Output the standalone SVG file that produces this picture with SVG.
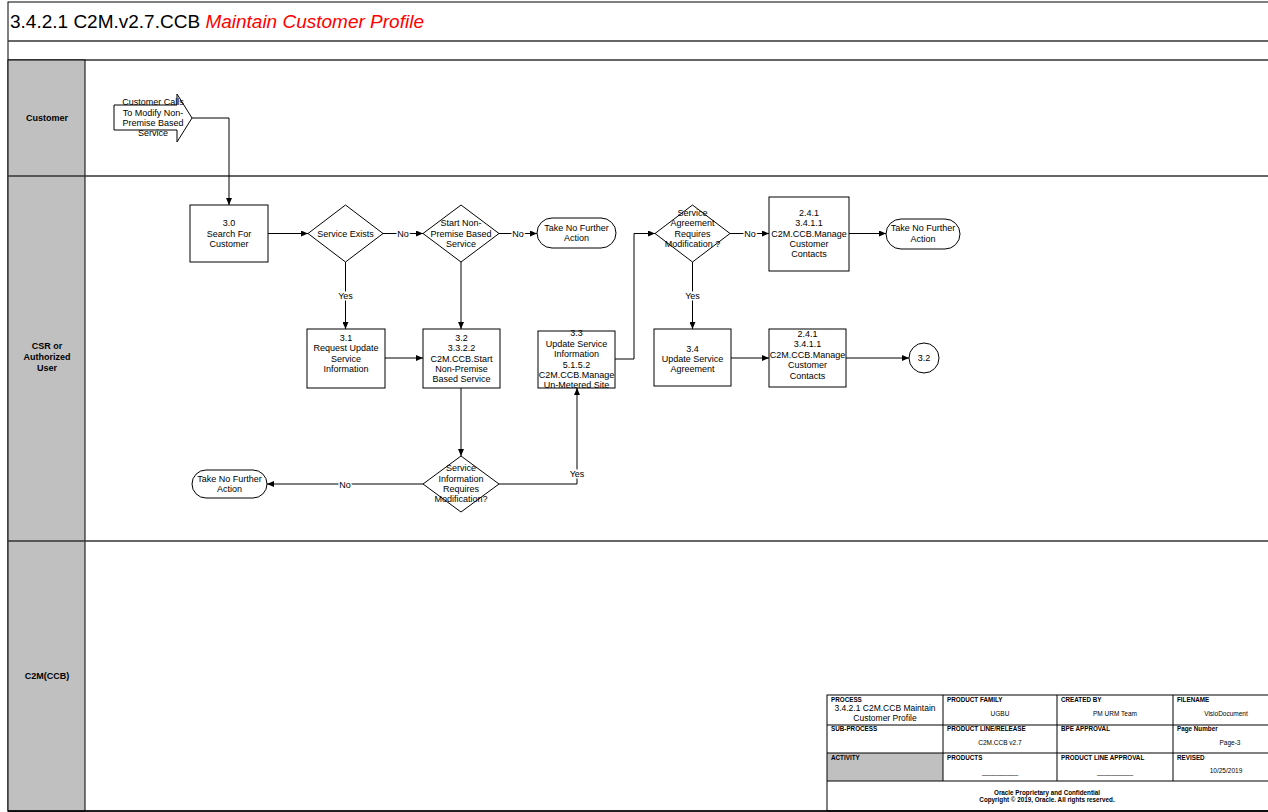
<svg xmlns="http://www.w3.org/2000/svg" width="1268" height="812" viewBox="0 0 1268 812">
<style>
  text { font-family: "Liberation Sans", Arial, sans-serif; fill: #000; }
  .n { font-size: 9px; text-anchor: middle; }
  .lane { font-size: 9px; font-weight: bold; text-anchor: middle; }
  .box { fill: #fff; stroke: #000; stroke-width: 1; }
  .conn { fill: none; stroke: #000; stroke-width: 1; }
  .lbl { font-size: 9px; text-anchor: middle; paint-order: stroke; stroke: #fff; stroke-width: 3px; }
  .hd { font-size: 6.3px; font-weight: bold; }
  .val { font-size: 6.5px; text-anchor: middle; }
  .grid { fill: none; stroke: #000; stroke-width: 1; }
  .sep { stroke: #333; stroke-width: 1.5; }
</style>
<defs>
  <marker id="ah" markerWidth="8" markerHeight="6" refX="7" refY="3" orient="auto" markerUnits="userSpaceOnUse">
    <path d="M0,0 L7,3 L0,6 z" fill="#000"/>
  </marker>
</defs>

<!-- Frame and lanes -->
<g id="frame">
  <rect x="0" y="0" width="1268" height="812" fill="#fff"/>
  <rect x="8" y="2" width="1270" height="809" fill="none" stroke="#000" stroke-width="1"/>
  <line x1="8" y1="41" x2="1268" y2="41" class="sep"/>
  <line x1="8" y1="60" x2="1268" y2="60" class="sep" stroke-width="2"/>
  <rect x="8" y="60" width="77" height="751" fill="#c0c0c0" stroke="#000" stroke-width="1"/>
  <line x1="8" y1="176" x2="1268" y2="176" class="sep"/>
  <line x1="8" y1="541" x2="1268" y2="541" class="sep"/>
  <line x1="8" y1="811" x2="1268" y2="811" stroke="#000" stroke-width="1.5"/>
  <text x="10" y="28" font-size="19">3.4.2.1 C2M.v2.7.CCB <tspan fill="#ff0000" font-style="italic">Maintain Customer Profile</tspan></text>
</g>

<g id="lane-customer"><text class="lane" x="47" y="121">Customer</text></g>
<g id="lane-csr"><text class="lane" x="47" y="349">CSR or</text><text class="lane" x="47" y="360">Authorized</text><text class="lane" x="47" y="371">User</text></g>
<g id="lane-c2m"><text class="lane" x="47" y="679">C2M(CCB)</text></g>

<!-- Connectors -->
<g id="connectors">
  <path class="conn" d="M192,118 H229 V205" marker-end="url(#ah)"/>
  <path class="conn" d="M268,233.5 H308" marker-end="url(#ah)"/>
  <path class="conn" d="M383,233.5 H423" marker-end="url(#ah)"/>
  <text class="lbl" x="403" y="237">No</text>
  <path class="conn" d="M499,233.5 H537" marker-end="url(#ah)"/>
  <text class="lbl" x="518" y="237">No</text>
  <path class="conn" d="M345.5,262 V329" marker-end="url(#ah)"/>
  <text class="lbl" x="345.5" y="299">Yes</text>
  <path class="conn" d="M461,262 V329" marker-end="url(#ah)"/>
  <path class="conn" d="M385,358 H423" marker-end="url(#ah)"/>
  <path class="conn" d="M461,388 V456" marker-end="url(#ah)"/>
  <path class="conn" d="M423,484 H267" marker-end="url(#ah)"/>
  <text class="lbl" x="345" y="488">No</text>
  <path class="conn" d="M499,484 H577 V388" marker-end="url(#ah)"/>
  <text class="lbl" x="577" y="477">Yes</text>
  <path class="conn" d="M615,359 H634 V233.5 H655" marker-end="url(#ah)"/>
  <path class="conn" d="M730,233.5 H769" marker-end="url(#ah)"/>
  <text class="lbl" x="750" y="237">No</text>
  <path class="conn" d="M849,233.5 H886" marker-end="url(#ah)"/>
  <path class="conn" d="M692.5,262 V329" marker-end="url(#ah)"/>
  <text class="lbl" x="692.5" y="299">Yes</text>
  <path class="conn" d="M731,358 H769" marker-end="url(#ah)"/>
  <path class="conn" d="M846,358 H909" marker-end="url(#ah)"/>
</g>

<!-- Nodes -->
<g id="start">
  <path class="box" d="M114,105 H177 V94 L192,118 L177,142 V130 H114 Z"/>
  <text class="n" x="153" y="105">Customer Calls</text>
  <text class="n" x="153" y="116">To Modify Non-</text>
  <text class="n" x="153" y="126">Premise Based</text>
  <text class="n" x="153" y="136">Service</text>
</g>
<g id="n30">
  <rect class="box" x="190" y="205" width="78" height="57"/>
  <text class="n" x="229" y="226">3.0</text>
  <text class="n" x="229" y="237">Search For</text>
  <text class="n" x="229" y="247">Customer</text>
</g>
<g id="d-service-exists">
  <path class="box" d="M345.5,205 L383,233.5 L345.5,262 L308,233.5 Z"/>
  <text class="n" x="345.5" y="237">Service Exists</text>
</g>
<g id="d-start-nonpremise">
  <path class="box" d="M461,205 L499,233.5 L461,262 L423,233.5 Z"/>
  <text class="n" x="461" y="226">Start Non-</text>
  <text class="n" x="461" y="237">Premise Based</text>
  <text class="n" x="461" y="247">Service</text>
</g>
<g id="t1">
  <rect class="box" x="537" y="218" width="79" height="30" rx="15"/>
  <text class="n" x="576.5" y="231">Take No Further</text>
  <text class="n" x="576.5" y="241">Action</text>
</g>
<g id="n31">
  <rect class="box" x="307" y="329" width="78" height="59"/>
  <text class="n" x="346" y="341">3.1</text>
  <text class="n" x="346" y="351">Request Update</text>
  <text class="n" x="346" y="362">Service</text>
  <text class="n" x="346" y="372">Information</text>
</g>
<g id="n32">
  <rect class="box" x="423" y="329" width="77" height="59"/>
  <text class="n" x="461.5" y="341">3.2</text>
  <text class="n" x="461.5" y="351">3.3.2.2</text>
  <text class="n" x="461.5" y="362">C2M.CCB.Start</text>
  <text class="n" x="461.5" y="372">Non-Premise</text>
  <text class="n" x="461.5" y="382">Based Service</text>
</g>
<g id="n33">
  <rect class="box" x="538" y="331" width="77" height="57"/>
  <text class="n" x="576.5" y="336">3.3</text>
  <text class="n" x="576.5" y="347">Update Service</text>
  <text class="n" x="576.5" y="357">Information</text>
  <text class="n" x="576.5" y="368">5.1.5.2</text>
  <text class="n" x="576.5" y="378">C2M.CCB.Manage</text>
  <text class="n" x="576.5" y="388">Un-Metered Site</text>
</g>
<g id="d-sirm">
  <path class="box" d="M461,456 L499,484 L461,512 L423,484 Z"/>
  <text class="n" x="461" y="471">Service</text>
  <text class="n" x="461" y="482">Information</text>
  <text class="n" x="461" y="492">Requires</text>
  <text class="n" x="461" y="502">Modification?</text>
</g>
<g id="t3">
  <rect class="box" x="192" y="470" width="75" height="28" rx="14"/>
  <text class="n" x="229.5" y="482">Take No Further</text>
  <text class="n" x="229.5" y="492">Action</text>
</g>
<g id="d-sarm">
  <path class="box" d="M692.5,205 L730,233.5 L692.5,262 L655,233.5 Z"/>
  <text class="n" x="692.5" y="216">Service</text>
  <text class="n" x="692.5" y="226">Agreement</text>
  <text class="n" x="692.5" y="237">Requires</text>
  <text class="n" x="692.5" y="247">Modification ?</text>
</g>
<g id="n241a">
  <rect class="box" x="769" y="197" width="80" height="74"/>
  <text class="n" x="809" y="216">2.4.1</text>
  <text class="n" x="809" y="226">3.4.1.1</text>
  <text class="n" x="809" y="237">C2M.CCB.Manage</text>
  <text class="n" x="809" y="247">Customer</text>
  <text class="n" x="809" y="257">Contacts</text>
</g>
<g id="t2">
  <rect class="box" x="886" y="219" width="74" height="30" rx="15"/>
  <text class="n" x="923" y="231">Take No Further</text>
  <text class="n" x="923" y="242">Action</text>
</g>
<g id="n34">
  <rect class="box" x="654" y="329" width="77" height="57"/>
  <text class="n" x="692.5" y="352">3.4</text>
  <text class="n" x="692.5" y="362">Update Service</text>
  <text class="n" x="692.5" y="372">Agreement</text>
</g>
<g id="n241b">
  <rect class="box" x="769" y="329" width="77" height="58"/>
  <text class="n" x="807.5" y="337">2.4.1</text>
  <text class="n" x="807.5" y="347">3.4.1.1</text>
  <text class="n" x="807.5" y="358">C2M.CCB.Manage</text>
  <text class="n" x="807.5" y="368">Customer</text>
  <text class="n" x="807.5" y="379">Contacts</text>
</g>
<g id="c32">
  <circle class="box" cx="924" cy="358" r="15"/>
  <text class="n" x="924" y="361">3.2</text>
</g>

<!-- Footer table -->
<g id="footer">
  <rect x="827" y="753" width="116" height="28" fill="#c0c0c0"/>
  <rect class="grid" x="827" y="695" width="450" height="116"/>
  <line class="grid" x1="827" y1="725" x2="1268" y2="725"/>
  <line class="grid" x1="827" y1="753" x2="1268" y2="753"/>
  <line class="grid" x1="827" y1="781" x2="1268" y2="781"/>
  <line class="grid" x1="943" y1="695" x2="943" y2="781"/>
  <line class="grid" x1="1057" y1="695" x2="1057" y2="781"/>
  <line class="grid" x1="1173" y1="695" x2="1173" y2="781"/>
  <text class="hd" x="831" y="702">PROCESS</text>
  <text x="885" y="711" font-size="8.5" text-anchor="middle">3.4.2.1 C2M.CCB Maintain</text>
  <text x="885" y="721" font-size="8.5" text-anchor="middle">Customer Profile</text>
  <text class="hd" x="947" y="702">PRODUCT FAMILY</text>
  <text class="val" x="1000" y="716">UGBU</text>
  <text class="hd" x="1061" y="702">CREATED BY</text>
  <text class="val" x="1115" y="716">PM URM Team</text>
  <text class="hd" x="1177" y="702">FILENAME</text>
  <text class="val" x="1226" y="716">VisioDocument</text>
  <text class="hd" x="831" y="731">SUB-PROCESS</text>
  <text class="hd" x="947" y="731">PRODUCT LINE/RELEASE</text>
  <text class="val" x="1000" y="745">C2M.CCB v2.7</text>
  <text class="hd" x="1061" y="731">BPE APPROVAL</text>
  <text class="hd" x="1177" y="731">Page Number</text>
  <text class="val" x="1230" y="745">Page-3</text>
  <text class="hd" x="831" y="760">ACTIVITY</text>
  <text class="hd" x="947" y="760">PRODUCTS</text>
  <text class="val" x="1000" y="774">__________</text>
  <text class="hd" x="1061" y="760">PRODUCT LINE APPROVAL</text>
  <text class="val" x="1115" y="774">__________</text>
  <text class="hd" x="1177" y="760">REVISED</text>
  <text class="val" x="1226" y="773">10/25/2019</text>
  <text class="hd" x="1047" y="795" text-anchor="middle">Oracle Proprietary and Confidential</text>
  <text class="hd" x="1047" y="802" text-anchor="middle">Copyright © 2019, Oracle. All rights reserved.</text>
</g>
</svg>
